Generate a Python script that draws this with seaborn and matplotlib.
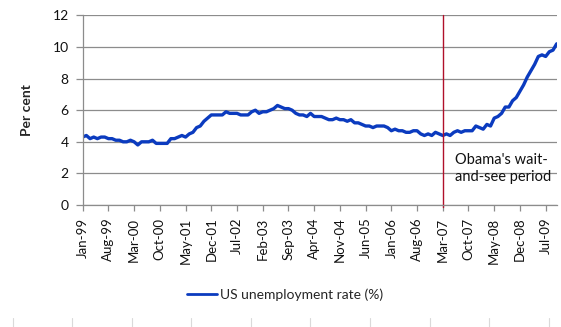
import numpy as np
import pandas as pd
import matplotlib
matplotlib.use("Agg")
import matplotlib.pyplot as plt
from matplotlib.lines import Line2D
import seaborn as sns

# Monthly US unemployment rate (%), Jan-1999 .. Oct-2009
rate_1999 = [4.3, 4.4, 4.2, 4.3, 4.2, 4.3, 4.3, 4.2, 4.2, 4.1, 4.1, 4.0]
rate_2000 = [4.0, 4.1, 4.0, 3.8, 4.0, 4.0, 4.0, 4.1, 3.9, 3.9, 3.9, 3.9]
rate_2001 = [4.2, 4.2, 4.3, 4.4, 4.3, 4.5, 4.6, 4.9, 5.0, 5.3, 5.5, 5.7]
rate_2002 = [5.7, 5.7, 5.7, 5.9, 5.8, 5.8, 5.8, 5.7, 5.7, 5.7, 5.9, 6.0]
rate_2003 = [5.8, 5.9, 5.9, 6.0, 6.1, 6.3, 6.2, 6.1, 6.1, 6.0, 5.8, 5.7]
rate_2004 = [5.7, 5.6, 5.8, 5.6, 5.6, 5.6, 5.5, 5.4, 5.4, 5.5, 5.4, 5.4]
rate_2005 = [5.3, 5.4, 5.2, 5.2, 5.1, 5.0, 5.0, 4.9, 5.0, 5.0, 5.0, 4.9]
rate_2006 = [4.7, 4.8, 4.7, 4.7, 4.6, 4.6, 4.7, 4.7, 4.5, 4.4, 4.5, 4.4]
rate_2007 = [4.6, 4.5, 4.4, 4.5, 4.4, 4.6, 4.7, 4.6, 4.7, 4.7, 4.7, 5.0]
rate_2008 = [4.9, 4.8, 5.1, 5.0, 5.5, 5.6, 5.8, 6.2, 6.2, 6.6, 6.8, 7.2]
rate_2009 = [7.6, 8.1, 8.5, 8.9, 9.4, 9.5, 9.4, 9.7, 9.8, 10.2]

rates = (rate_1999 + rate_2000 + rate_2001 + rate_2002 + rate_2003 + rate_2004
         + rate_2005 + rate_2006 + rate_2007 + rate_2008 + rate_2009)
months = pd.date_range("1999-01-01", periods=len(rates), freq="MS")
month_labels = [m.strftime("%b-%y") for m in months]

series_name = "US unemployment rate (%)"
marker_month = "Mar-07"
annotation_text = "Obama's wait-\nand-see period"
y_ticks = [0, 2, 4, 6, 8, 10, 12]

df = pd.DataFrame({"idx": np.arange(len(rates)), "rate": rates,
                   "series": series_name})

sns.set_style("white")
plt.rcParams["font.family"] = ["Lato", "DejaVu Sans"]

fig = plt.figure(figsize=(5.61, 3.27), dpi=100)
ax = fig.add_axes([0.1474, 0.373, 0.8449, 0.580])

sns.lineplot(data=df, x="idx", y="rate", hue="series", palette=["#0B3BBF"],
             linewidth=2.4, ax=ax, legend=False)

ax.set_ylim(0, 12)
ax.set_xlim(0, len(rates) - 1)
ax.set_yticks(y_ticks)
ax.set_yticklabels([str(v) for v in y_ticks], fontsize=10, color="#111111")
ax.grid(axis="y", color="#8C8C8C", linewidth=0.9)
ax.grid(axis="x", visible=False)
ax.set_axisbelow(True)

tick_idx = list(range(0, len(rates), 7))
ax.set_xticks(tick_idx)
ax.set_xticklabels([month_labels[i] for i in tick_idx], rotation=90,
                   fontsize=9.5, color="#111111")
ax.tick_params(axis="x", direction="out", length=4, width=0.9,
               color="#8C8C8C", bottom=True, pad=5)
ax.tick_params(axis="y", direction="out", length=5, width=0.9,
               color="#8C8C8C", left=True, pad=5)

for s in ["top", "right"]:
    ax.spines[s].set_visible(False)
for s in ["left", "bottom"]:
    ax.spines[s].set_color("#8C8C8C")
    ax.spines[s].set_linewidth(0.9)

ax.set_xlabel("")
ax.set_ylabel("Per cent", fontsize=10, fontweight="bold", labelpad=14)

mx = month_labels.index(marker_month)
ax.axvline(mx, color="#B0102A", linewidth=1.0, ymin=-0.01, ymax=1, clip_on=False)
ax.text(mx + 3.2, 2.3, annotation_text, fontsize=10.5, ha="left",
        va="center", color="#111111", linespacing=1.25)

handle = Line2D([0], [0], color="#0B3BBF", linewidth=2.0)
fig.legend([handle], [series_name], loc="center", bbox_to_anchor=(0.508, 0.098),
           frameon=False, fontsize=10, handlelength=2.2, handletextpad=0.2)

# faint spreadsheet cell borders at the bottom
for px in [13, 72, 132, 191, 251, 310, 370, 430, 489, 549]:
    fig.add_artist(Line2D([px / 561, px / 561], [0, 9 / 327],
                          transform=fig.transFigure, color="#DADADA",
                          linewidth=0.8))

fig.savefig("out.png", dpi=100)
